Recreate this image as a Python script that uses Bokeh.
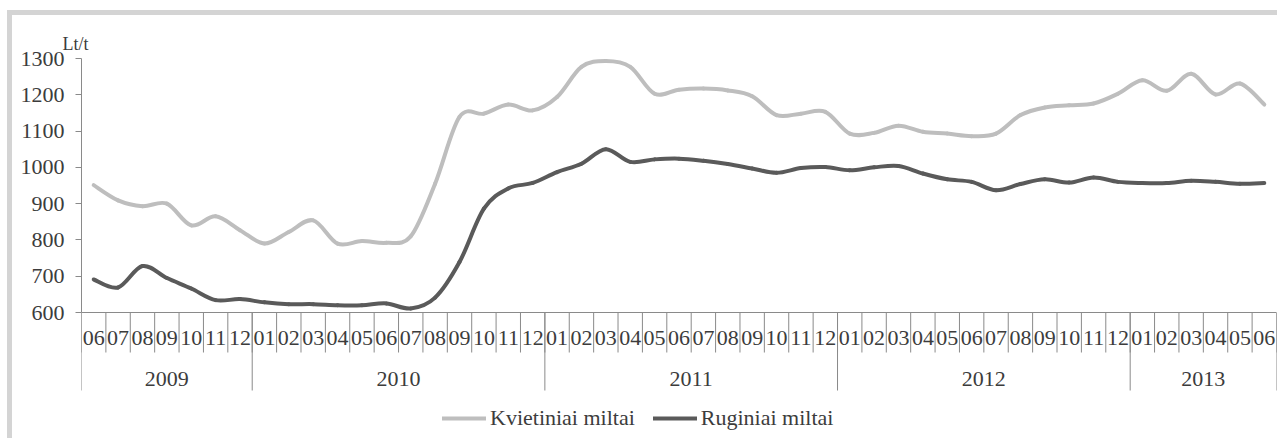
import numpy as np
from bokeh.plotting import figure
from bokeh.models import Range1d, FixedTicker, Title, Legend, LegendItem, ColumnDataSource
from bokeh.layouts import column
from bokeh.embed import file_html
from bokeh.resources import INLINE
from bokeh.core.properties import value

# ---------------- data ----------------
year_labels = ["2009", "2010", "2011", "2012", "2013"]
month_labels = ["06", "07", "08", "09", "10", "11", "12",
                "01", "02", "03", "04", "05", "06", "07", "08", "09", "10", "11", "12",
                "01", "02", "03", "04", "05", "06", "07", "08", "09", "10", "11", "12",
                "01", "02", "03", "04", "05", "06", "07", "08", "09", "10", "11", "12",
                "01", "02", "03", "04", "05", "06"]
wheat = [951, 909, 893, 900, 840, 865, 827, 790, 822, 854, 790, 797, 792, 810,
         955, 1139, 1148, 1173, 1157, 1194, 1277, 1293, 1277, 1203, 1214, 1217, 1212,
         1196, 1144, 1148, 1153,
         1093, 1095, 1115, 1098, 1093, 1086, 1093, 1144, 1165, 1171, 1176, 1203,
         1240, 1211, 1258, 1201, 1231, 1173]
rye = [691, 669, 728, 695, 666, 634, 637, 628, 623, 623, 620, 620, 625, 611,
       641, 739, 886, 942, 957, 987, 1010, 1050, 1015, 1022, 1024, 1018, 1009,
       997, 985, 998, 1001,
       992, 1000, 1004, 983, 967, 960, 937, 954, 967, 958, 972, 960,
       957, 957, 963, 960, 955, 957]
series_names = ["Kvietiniai miltai", "Ruginiai miltai"]
y_ticks = [600, 700, 800, 900, 1000, 1100, 1200, 1300]
unit_label = "Lt/t"

# ---------------- style / layout ----------------
FONT = "Times New Roman, Liberation Serif, DejaVu Serif, serif"
TXT = "#3c3c3c"
AXC = "#8a8a8a"
WHEAT_C = "#bebebe"
RYE_C = "#5a5a5a"
W, H = 1265, 423
MB_L, MB_R, MB_T = 69, 1, 43
PLOT_PX = 254          # height of the 600..1300 area
TABLE_PX = H - MB_T - PLOT_PX
Y0, Y1 = y_ticks[0], y_ticks[-1]
n = len(month_labels)

y_start = Y0 - TABLE_PX * (Y1 - Y0) / PLOT_PX
p = figure(width=W, height=H, output_backend="svg", toolbar_location=None,
           x_range=Range1d(-0.5, n - 0.5), y_range=Range1d(y_start, Y1),
           x_axis_location=None, min_border_left=MB_L, min_border_right=MB_R,
           min_border_top=MB_T, min_border_bottom=0)
p.extra_y_ranges = {"tbl": Range1d(-TABLE_PX, PLOT_PX)}
p.xgrid.visible = False
p.ygrid.visible = False
p.outline_line_color = None
p.background_fill_color = "white"
p.border_fill_color = "white"

ax = p.yaxis[0]
ax.ticker = FixedTicker(ticks=y_ticks)
ax.bounds = (Y0, Y1)
ax.major_tick_out = 6
ax.major_tick_in = 0
ax.minor_tick_out = 0
ax.minor_tick_in = 0
ax.axis_line_color = AXC
ax.major_tick_line_color = AXC
ax.major_label_text_font = FONT
ax.major_label_text_font_size = "22px"
ax.major_label_text_color = TXT
ax.major_label_standoff = 11


def smooth(xs, ys):
    xs = list(xs); ys = list(ys)
    px = [xs[0]] + xs + [xs[-1]]
    py = [ys[0]] + ys + [ys[-1]]
    d = dict(x0=[], y0=[], x1=[], y1=[], cx0=[], cy0=[], cx1=[], cy1=[])
    for i in range(len(xs) - 1):
        a, b, c, e = i, i + 1, i + 2, i + 3
        d["x0"].append(px[b]); d["y0"].append(py[b])
        d["x1"].append(px[c]); d["y1"].append(py[c])
        d["cx0"].append(px[b] + (px[c] - px[a]) / 6.0)
        d["cy0"].append(py[b] + (py[c] - py[a]) / 6.0)
        d["cx1"].append(px[c] - (px[e] - px[b]) / 6.0)
        d["cy1"].append(py[c] - (py[e] - py[b]) / 6.0)
    return ColumnDataSource(d)


xs = list(range(n))
r_w = p.bezier(x0="x0", y0="y0", x1="x1", y1="y1", cx0="cx0", cy0="cy0", cx1="cx1", cy1="cy1",
               source=smooth(xs, wheat), line_color=WHEAT_C, line_width=4, line_cap="round")
r_r = p.bezier(x0="x0", y0="y0", x1="x1", y1="y1", cx0="cx0", cy0="cy0", cx1="cx1", cy1="cy1",
               source=smooth(xs, rye), line_color=RYE_C, line_width=4, line_cap="round")

# ---------------- category table (x axis) ----------------
MONTH_SEP = 40
YEAR_SEP = 78
bounds = [i - 0.5 for i in range(n + 1)]
p.segment(x0=[-0.5], y0=[0], x1=[n - 0.5], y1=[0], y_range_name="tbl",
          line_color=AXC, line_width=1)
p.segment(x0=bounds, y0=[0] * len(bounds), x1=bounds, y1=[-MONTH_SEP] * len(bounds),
          y_range_name="tbl", line_color=AXC, line_width=1)
p.text(x=xs, y=[-25] * n, text=month_labels, y_range_name="tbl",
       text_align="center", text_baseline="middle", text_font=value(FONT),
       text_font_size="22px", text_color=TXT)

starts = [0] + [i for i in range(1, n) if month_labels[i] == "01"]
ends = starts[1:] + [n]
ybounds = [s - 0.5 for s in starts] + [n - 0.5]
p.segment(x0=ybounds, y0=[0] * len(ybounds), x1=ybounds, y1=[-YEAR_SEP] * len(ybounds),
          y_range_name="tbl", line_color=AXC, line_width=1)
p.text(x=[(s + e - 1) / 2 for s, e in zip(starts, ends)], y=[-66] * len(starts),
       text=year_labels, y_range_name="tbl", text_align="center", text_baseline="middle",
       text_font=value(FONT), text_font_size="22px", text_color=TXT)

# unit label above the y axis
p.title = Title(text=unit_label, align="left", offset=-19, standoff=9,
                text_font=FONT, text_font_size="18px", text_color=TXT,
                text_font_style="normal")

legend = Legend(items=[LegendItem(label=series_names[0], renderers=[r_w]),
                       LegendItem(label=series_names[1], renderers=[r_r])],
                orientation="horizontal", location=(361, 7), glyph_width=44,
                glyph_height=20, label_standoff=4, spacing=18, padding=0, margin=0,
                border_line_color=None, background_fill_alpha=0,
                label_text_font=FONT, label_text_font_size="22px",
                label_text_color=TXT)
p.add_layout(legend)

layout = column(p, styles={"border-left": "5px solid #d4d4d4",
                           "border-top": "5px solid #d4d4d4",
                           "margin-left": "7px", "margin-top": "10px"})

open("out.html", "w").write(file_html(layout, INLINE))
